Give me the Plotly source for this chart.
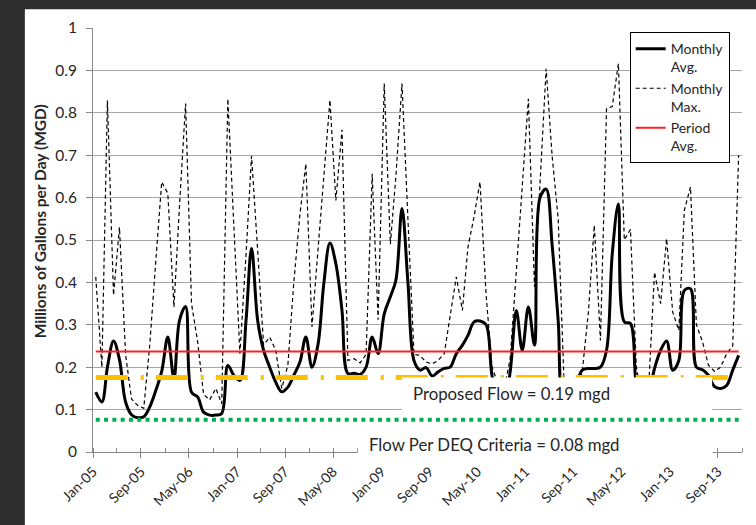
"""
Monthly flow record, Jan-05 to Dec-13
"""

import pandas as pd
import plotly.graph_objects as go


# mid-month sample dates, Jan-05 .. Dec-13
months = pd.date_range("2005-01-01", periods=108, freq="MS") + pd.Timedelta(days=14)

monthly_avg = [
    0.141, 0.118, 0.200, 0.262, 0.218, 0.118, 0.088, 0.081, 0.083, 0.106,
    0.145, 0.190, 0.271, 0.173, 0.310, 0.343, 0.141, 0.130, 0.094, 0.087,
    0.087, 0.091, 0.204, 0.181, 0.169, 0.310, 0.480, 0.310, 0.240, 0.200,
    0.165, 0.142, 0.153, 0.181, 0.212, 0.271, 0.200, 0.255, 0.397, 0.493,
    0.444, 0.334, 0.185, 0.186, 0.183, 0.200, 0.271, 0.232, 0.326, 0.366,
    0.405, 0.574, 0.400, 0.215, 0.193, 0.199, 0.179, 0.189, 0.197, 0.200,
    0.232, 0.252, 0.275, 0.307, 0.309, 0.300, 0.180, 0.130, 0.120, 0.190,
    0.334, 0.240, 0.342, 0.252, 0.600, 0.620, 0.490, 0.310, 0.120, 0.120,
    0.160, 0.193, 0.197, 0.197, 0.200, 0.240, 0.468, 0.585, 0.307, 0.303,
    0.160, 0.120, 0.140, 0.197, 0.240, 0.262, 0.193, 0.216, 0.381, 0.385,
    0.200, 0.194, 0.181, 0.154, 0.150, 0.157, 0.193, 0.228,
]

monthly_max = [
    0.413, 0.200, 0.829, 0.370, 0.530, 0.230, 0.125, 0.110, 0.103, 0.250,
    0.450, 0.637, 0.610, 0.342, 0.580, 0.822, 0.350, 0.260, 0.136, 0.123,
    0.150, 0.114, 0.833, 0.520, 0.232, 0.465, 0.698, 0.475, 0.252, 0.271,
    0.240, 0.150, 0.205, 0.400, 0.560, 0.680, 0.295, 0.480, 0.660, 0.830,
    0.593, 0.760, 0.216, 0.220, 0.210, 0.230, 0.656, 0.312, 0.869, 0.490,
    0.650, 0.869, 0.550, 0.230, 0.228, 0.212, 0.208, 0.216, 0.232, 0.320,
    0.413, 0.334, 0.483, 0.555, 0.637, 0.370, 0.200, 0.160, 0.150, 0.220,
    0.430, 0.630, 0.833, 0.390, 0.630, 0.904, 0.700, 0.550, 0.160, 0.120,
    0.130, 0.190, 0.330, 0.535, 0.263, 0.810, 0.815, 0.916, 0.500, 0.525,
    0.200, 0.120, 0.150, 0.424, 0.350, 0.503, 0.330, 0.287, 0.570, 0.625,
    0.300, 0.260, 0.205, 0.190, 0.200, 0.232, 0.250, 0.700,
]

period_avg = 0.237
proposed_flow = 0.176
deq_flow = 0.076

y_title = "<b>Millions of Gallons per Day (MGD)</b>"
proposed_label = "Proposed Flow = 0.19 mgd"
deq_label = "Flow Per DEQ Criteria = 0.08 mgd"


def build_figure():

    fig = go.Figure()

    fig.add_trace(go.Scatter(
        x=months, y=monthly_avg, mode="lines", name="Monthly<br>Avg.",
        line=dict(color="black", width=3, shape="spline"),
    ))

    fig.add_trace(go.Scatter(
        x=months, y=monthly_max, mode="lines", name="Monthly<br>Max.",
        line=dict(color="black", width=1.2, dash="4px,3px"),
    ))

    fig.add_trace(go.Scatter(
        x=months, y=[period_avg] * len(months), mode="lines",
        name="Period<br>Avg.",
        line=dict(color="#ff2020", width=2),
    ))

    fig.add_trace(go.Scatter(
        x=months, y=[proposed_flow] * len(months), mode="lines",
        showlegend=False, hoverinfo="skip",
        line=dict(color="#ffc000", width=5, dash="32px,13px,3px,12px"),
    ))

    fig.add_trace(go.Scatter(
        x=months, y=[deq_flow] * len(months), mode="lines",
        showlegend=False, hoverinfo="skip",
        line=dict(color="#00b050", width=4, dash="4px,4.3px"),
    ))

    # slide page behind the chart, and the two white label boxes
    fig.add_shape(type="rect", xref="paper", yref="paper",
                  x0=-0.105, x1=1.03, y0=-0.2, y1=1.044,
                  fillcolor="white", line_width=0, layer="below")
    fig.add_shape(type="rect", xref="paper", yref="paper",
                  x0=0.476, x1=0.954, y0=0.089, y1=0.176,
                  fillcolor="white", line_width=0, layer="above")
    fig.add_shape(type="rect", xref="paper", yref="paper",
                  x0=0.408, x1=0.955, y0=-0.027, y1=0.068,
                  fillcolor="white", line_width=0, layer="above")

    fig.add_annotation(text=proposed_label, xref="paper", yref="paper",
                       x=0.645, y=0.108, showarrow=False,
                       font=dict(size=16.8, color="#262626"))
    fig.add_annotation(text=deq_label, xref="paper", yref="paper",
                       x=0.618, y=-0.012, showarrow=False,
                       font=dict(size=16.8, color="#262626"))

    # axis title sits a little above the plot centre, as in the slide
    fig.add_annotation(text=y_title, xref="paper", yref="paper",
                       x=-0.098, y=0.545, textangle=-90, showarrow=False,
                       font=dict(size=15.5, color="#262626"))

    fig.update_layout(
        width=756, height=525,
        margin=dict(l=93, r=14, t=28, b=73),
        paper_bgcolor="#2e2e2e",
        plot_bgcolor="white",
        font=dict(family="Lato", color="#262626"),
        legend=dict(
            x=0.981, xanchor="right", y=0.99, yanchor="top",
            bgcolor="white", bordercolor="black", borderwidth=1,
            font=dict(size=14), valign="top", tracegroupgap=0,
        ),
    )

    fig.update_xaxes(
        type="date", range=["2005-01-01", "2014-01-01"],
        tick0="2005-01-01", dtick="M8", tickformat="%b-%y",
        tickangle=-45, tickfont=dict(size=14),
        ticks="outside", ticklen=5, tickcolor="#888888",
        showline=True, linecolor="#888888", showgrid=False, zeroline=False,
        minor=dict(dtick="M4", ticks="inside", ticklen=4,
                   tickcolor="#888888", showgrid=False),
    )

    fig.update_yaxes(
        range=[0, 1], dtick=0.1, tickfont=dict(size=15.5),
        ticks="outside", ticklen=6, tickcolor="#888888",
        ticklabelstandoff=6,
        showline=True, linecolor="#888888",
        gridcolor="#a6a6a6", zeroline=False,
    )

    return fig


fig = build_figure()

# drop the browser's default page margin so the figure sits at the corner
fig.write_html(
    "out.html",
    config={"displayModeBar": False},
    post_script="document.body.style.margin = '0';",
)
